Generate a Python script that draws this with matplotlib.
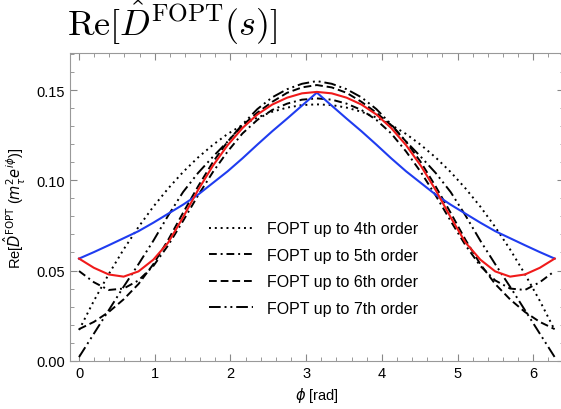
import numpy as np
import matplotlib.pyplot as plt
from matplotlib.ticker import MultipleLocator

plt.rcParams['font.family'] = ['Liberation Sans', 'DejaVu Sans']

# phi grid (rad), step pi/16
phi = np.linspace(0, 2*np.pi, 33)

# values, 0 -> 2pi
red = [0.0566, 0.0515, 0.0478, 0.0466, 0.0495, 0.0560, 0.0655, 0.0795, 0.0945, 0.1080, 0.1195, 0.1290, 0.1365,
       0.1420, 0.1458, 0.1482, 0.1490,
       0.1482, 0.1458, 0.1420, 0.1365, 0.1290, 0.1195, 0.1080, 0.0945, 0.0795, 0.0655, 0.0560, 0.0495,
       0.0466, 0.0478, 0.0515, 0.0566]
blue = [0.0566, 0.0602, 0.0640, 0.0679, 0.0718, 0.0765, 0.0815, 0.0865, 0.0920, 0.0985, 0.1050, 0.1122, 0.1198,
        0.1272, 0.1342, 0.1414, 0.1486,
        0.1414, 0.1342, 0.1272, 0.1198, 0.1122, 0.1050, 0.0985, 0.0920, 0.0865, 0.0815, 0.0765, 0.0718,
        0.0679, 0.0640, 0.0602, 0.0566]
fopt4 = [0.0170, 0.0332, 0.0480, 0.0617, 0.0741, 0.0854, 0.0955, 0.1046, 0.1126, 0.1196, 0.1257, 0.1307, 0.1348,
         0.1380, 0.1403, 0.1417, 0.1421,
         0.1417, 0.1403, 0.1380, 0.1348, 0.1307, 0.1257, 0.1196, 0.1126, 0.1046, 0.0955, 0.0854, 0.0741,
         0.0617, 0.0480, 0.0332, 0.0170]
fopt5 = [0.0497, 0.0435, 0.0392, 0.0400, 0.0445, 0.0525, 0.0640, 0.0775, 0.0915, 0.1045, 0.1160, 0.1260, 0.1335,
         0.1390, 0.1425, 0.1447, 0.1454,
         0.1447, 0.1425, 0.1390, 0.1335, 0.1260, 0.1160, 0.1045, 0.0915, 0.0775, 0.0640, 0.0525, 0.0445,
         0.0400, 0.0392, 0.0435, 0.0497]
fopt6 = [0.0175, 0.0215, 0.0270, 0.0340, 0.0425, 0.0535, 0.0670, 0.0820, 0.0965, 0.1100, 0.1215, 0.1305, 0.1375,
         0.1435, 0.1485, 0.1515, 0.1528,
         0.1515, 0.1485, 0.1435, 0.1375, 0.1305, 0.1215, 0.1100, 0.0965, 0.0820, 0.0670, 0.0535, 0.0425,
         0.0340, 0.0270, 0.0215, 0.0175]
fopt7 = [0.0020, 0.0150, 0.0280, 0.0410, 0.0535, 0.0665, 0.0805, 0.0935, 0.1040, 0.1130, 0.1215, 0.1310, 0.1395,
         0.1460, 0.1505, 0.1535, 0.1550,
         0.1535, 0.1505, 0.1460, 0.1395, 0.1310, 0.1215, 0.1130, 0.1040, 0.0935, 0.0805, 0.0665, 0.0535,
         0.0410, 0.0280, 0.0150, 0.0020]

labels = ['FOPT up to 4th order', 'FOPT up to 5th order',
          'FOPT up to 6th order', 'FOPT up to 7th order']

fig = plt.figure(figsize=(5.61, 4.10), dpi=100)
ax = fig.add_axes([0.1248, 0.1178, 0.8797, 0.7502])

ax.plot(phi, fopt4, color='black', lw=1.4, ls=(0, (1, 2)), label=labels[0])
ax.plot(phi, fopt5, color='black', lw=1.4, ls=(0, (4, 2, 1, 2)), label=labels[1])
ax.plot(phi, fopt6, color='black', lw=1.4, ls=(0, (4, 2)), label=labels[2])
ax.plot(phi, fopt7, color='black', lw=1.4, ls=(0, (6, 2, 1, 2, 1, 2)), label=labels[3])
ax.plot(phi, blue, color='#1f3cf0', lw=1.5)
ax.plot(phi, red, color='#f01a1a', lw=1.5)

ax.set_xlim(-0.119, 6.40)
ax.set_ylim(0, 0.1705)
ax.xaxis.set_major_locator(MultipleLocator(1))
ax.xaxis.set_minor_locator(MultipleLocator(0.2))
ax.yaxis.set_major_locator(MultipleLocator(0.05))
ax.yaxis.set_minor_locator(MultipleLocator(0.01))
ax.yaxis.set_major_formatter(plt.FormatStrFormatter('%.2f'))
ax.tick_params(which='both', direction='in', top=True, right=True, color='#888888', labelsize=10.5)
ax.tick_params(which='major', length=5)
ax.tick_params(which='minor', length=3)
for sp in ax.spines.values():
    sp.set_color('#999999')

ax.set_xlabel(r'$\phi$ [rad]', fontsize=10.5, labelpad=4)
ax.set_ylabel(r'Re[$\hat{D}^{\mathrm{FOPT}}$ ($m_\tau^2 e^{i\phi}$)]', fontsize=10.5, labelpad=6)

fig.text(0.119, 0.912, r'$\mathrm{Re}[\hat{D}^{\mathrm{FOPT}}(s)]$', fontsize=26,
         math_fontfamily='cm', ha='left', va='baseline')

ax.legend(loc='upper left', bbox_to_anchor=(195/561, 1 - 208/410), bbox_transform=fig.transFigure,
          frameon=False, fontsize=11.5, handlelength=2.7, labelspacing=0.72, handletextpad=0.9)

fig.savefig('out.png', dpi=100)
